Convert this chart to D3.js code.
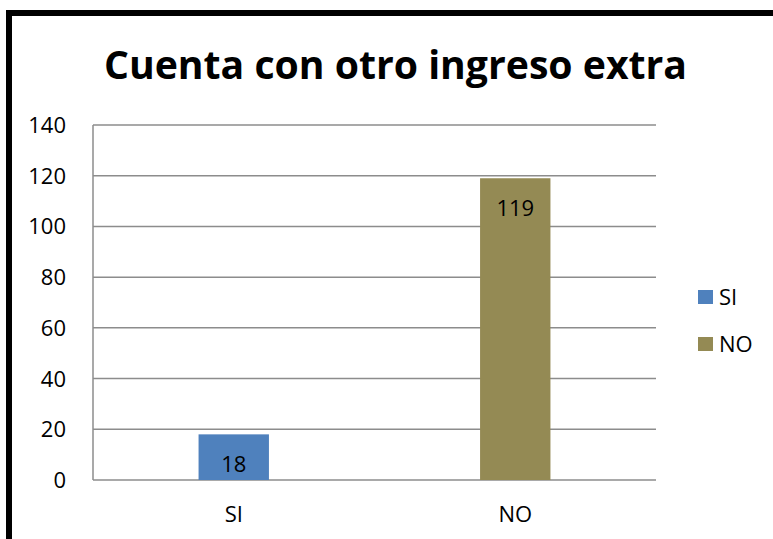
<!DOCTYPE html>
<html>
<head>
<meta charset="utf-8">
<script src="https://cdn.jsdelivr.net/npm/d3@7"></script>
<style>
  html, body { margin: 0; padding: 0; background: #fff; }
  svg { display: block; font-family: "Open Sans", sans-serif; }
</style>
</head>
<body>
<div id="chart"></div>
<script>
var titleText = "Cuenta con otro ingreso extra";
var categories = ["SI", "NO"];
var values = [18, 119];
var colors = ["#4F81BD", "#948A54"];
var yTicks = [0, 20, 40, 60, 80, 100, 120, 140];

var width = 773, height = 539;
var margin = { top: 125, right: 117, bottom: 59, left: 93 };

var svg = d3.select("#chart").append("svg")
    .attr("width", width)
    .attr("height", height);

// outer frame (right and bottom edges fall outside the picture)
svg.append("rect")
    .attr("x", 9).attr("y", 13)
    .attr("width", 820).attr("height", 620)
    .attr("fill", "white")
    .attr("stroke", "black")
    .attr("stroke-width", 6);

svg.append("text")
    .attr("x", 104).attr("y", 79)
    .attr("textLength", 583)
    .attr("lengthAdjust", "spacingAndGlyphs")
    .style("font-size", "40px")
    .style("font-weight", "bold")
    .text(titleText);

var x = d3.scaleBand()
    .domain(categories)
    .range([margin.left, width - margin.right])
    .padding(0);

var y = d3.scaleLinear()
    .domain([0, 140])
    .range([height - margin.bottom, margin.top]);

// gridlines
svg.append("g").selectAll("line")
    .data(yTicks)
    .enter().append("line")
    .attr("x1", margin.left).attr("x2", width - margin.right)
    .attr("y1", d => y(d)).attr("y2", d => y(d))
    .attr("stroke", "#8c8c8c")
    .attr("stroke-width", 1.5);

// y axis line
svg.append("line")
    .attr("x1", margin.left).attr("x2", margin.left)
    .attr("y1", y(140)).attr("y2", y(0))
    .attr("stroke", "#8c8c8c")
    .attr("stroke-width", 1.5);

svg.append("g").selectAll("text")
    .data(yTicks)
    .enter().append("text")
    .attr("x", 66)
    .attr("y", d => y(d) + 8)
    .attr("text-anchor", "end")
    .style("font-size", "22px")
    .text(d => d);

// bars
var barW = x.bandwidth() * 0.25;
var bars = svg.append("g").selectAll("g")
    .data(categories)
    .enter().append("g");

bars.append("rect")
    .attr("x", d => x(d) + x.bandwidth() / 2 - barW / 2)
    .attr("y", (d, i) => y(values[i]))
    .attr("width", barW)
    .attr("height", (d, i) => y(0) - y(values[i]))
    .attr("fill", (d, i) => colors[i]);

bars.append("text")
    .attr("x", d => x(d) + x.bandwidth() / 2)
    .attr("y", (d, i) => y(values[i]) + 38)
    .attr("text-anchor", "middle")
    .style("font-size", "22px")
    .text((d, i) => values[i]);

// category labels
svg.append("g").selectAll("text")
    .data(categories)
    .enter().append("text")
    .attr("x", d => x(d) + x.bandwidth() / 2)
    .attr("y", y(0) + 42)
    .attr("text-anchor", "middle")
    .style("font-size", "22px")
    .text(d => d);

// legend
var legend = svg.append("g").selectAll("g")
    .data(categories)
    .enter().append("g")
    .attr("transform", (d, i) => "translate(698," + (290 + i * 47) + ")");

legend.append("rect")
    .attr("width", 15).attr("height", 14)
    .attr("fill", (d, i) => colors[i]);

legend.append("text")
    .attr("x", 21).attr("y", 14.5)
    .style("font-size", "22px")
    .text(d => d);
</script>
</body>
</html>
